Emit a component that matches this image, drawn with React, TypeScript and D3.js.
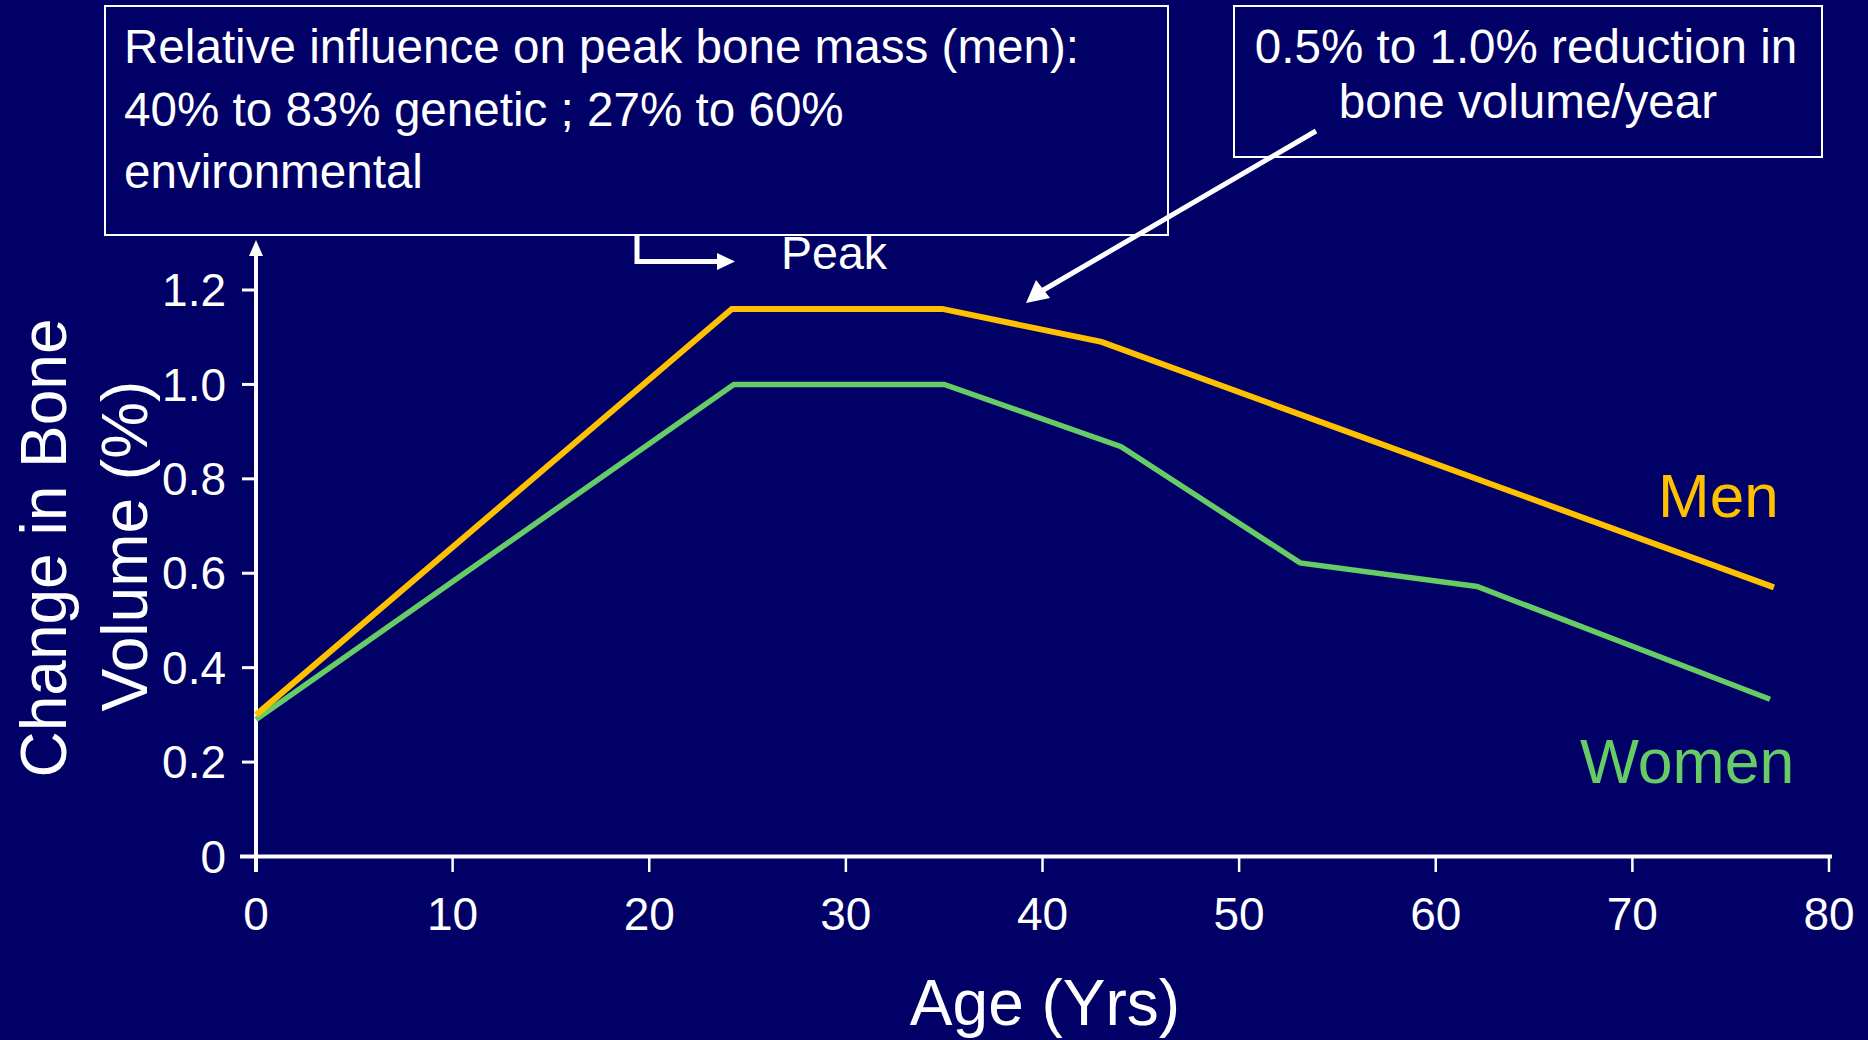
import React from 'react';
import * as d3 from 'd3';

// series values
const menAges = [0, 24.2, 34.9, 43, 77.2];
const menValues = [0.3, 1.16, 1.16, 1.09, 0.57];
const womenAges = [0, 24.3, 35, 44, 53.1, 62.1, 77];
const womenValues = [0.29, 1.0, 1.0, 0.868, 0.622, 0.572, 0.333];

const xTicks = [0, 10, 20, 30, 40, 50, 60, 70, 80];
const yTicks = [0, 0.2, 0.4, 0.6, 0.8, 1.0, 1.2];
const yTickLabels = ['0', '0.2', '0.4', '0.6', '0.8', '1.0', '1.2'];

const W = 1868;
const H = 1040;
const BG = '#000066';
const MEN = '#FFC000';
const WOMEN = '#66CC66';
const FONT = '"Liberation Sans", Arial, sans-serif';

export default function App() {
  // plot area: age 0..80 and volume 0..1.2
  const x = d3.scaleLinear().domain([0, 80]).range([256, 1829]);
  const y = d3.scaleLinear().domain([0, 1.2]).range([856.5, 290]);

  const line = d3
    .line<[number, number]>()
    .x((d) => x(d[0]))
    .y((d) => y(d[1]));

  const menPts = menAges.map((a, i) => [a, menValues[i]] as [number, number]);
  const womenPts = womenAges.map((a, i) => [a, womenValues[i]] as [number, number]);

  const x0 = x(0);
  const y0 = y(0);

  return (
    <div style={{ position: 'fixed', left: 0, top: 0, width: W, height: H, background: BG }}>
      <svg width={W} height={H} style={{ display: 'block' }} fontFamily={FONT}>
        <rect width={W} height={H} fill={BG} />

        {/* text box, left */}
        <rect x={105} y={6} width={1063} height={229} fill="none" stroke="white" strokeWidth={2} />
        <g fill="white" fontSize={47.6}>
          <text x={124} y={63}>Relative influence on peak bone mass (men):</text>
          <text x={124} y={126}>40% to 83% genetic ; 27% to 60%</text>
          <text x={124} y={188}>environmental</text>
        </g>

        {/* text box, right */}
        <rect x={1234} y={6} width={588} height={151} fill="none" stroke="white" strokeWidth={2} />
        <g fill="white" fontSize={47.6} textAnchor="middle">
          <text x={1526} y={63}>0.5% to 1.0% reduction in</text>
          <text x={1528} y={118}>bone volume/year</text>
        </g>

        {/* callout arrow */}
        <line x1={1316} y1={131} x2={1040} y2={292} stroke="white" strokeWidth={5} />
        <polygon points="1026,303 1036,280 1050,298" fill="white" />

        {/* peak marker */}
        <path d="M637,235 V261.5 H720" fill="none" stroke="white" strokeWidth={5} />
        <polygon points="735,261.5 717,253 717,270" fill="white" />
        <text x={781} y={269} fill="white" fontSize={46.5}>Peak</text>

        {/* y axis with arrow */}
        <line x1={x0} y1={872} x2={x0} y2={252} stroke="white" strokeWidth={4} />
        <polygon points={`${x0},240 ${x0 - 7},256 ${x0 + 7},256`} fill="white" />
        {yTicks.map((t, i) => (
          <g key={t}>
            <line x1={x0 - 14} x2={x0} y1={y(t)} y2={y(t)} stroke="white" strokeWidth={3} />
            <text
              x={226}
              y={y(t)}
              dy="0.35em"
              textAnchor="end"
              fill="white"
              fontSize={46}
            >
              {yTickLabels[i]}
            </text>
          </g>
        ))}

        {/* x axis */}
        <line x1={240} x2={1832} y1={y0} y2={y0} stroke="white" strokeWidth={4} />
        {xTicks.map((t) => (
          <g key={t}>
            <line x1={x(t)} x2={x(t)} y1={y0} y2={872} stroke="white" strokeWidth={2.5} />
            <text x={x(t)} y={930} textAnchor="middle" fill="white" fontSize={46}>
              {t}
            </text>
          </g>
        ))}

        {/* axis titles */}
        <text x={1045} y={1025} textAnchor="middle" fill="white" fontSize={64}>
          Age (Yrs)
        </text>
        <g fill="white" fontSize={64} textAnchor="middle">
          <text transform="translate(66,548) rotate(-90)">Change in Bone</text>
          <text transform="translate(147,546) rotate(-90)">Volume (%)</text>
        </g>

        {/* series */}
        <path d={line(womenPts) ?? ''} fill="none" stroke={WOMEN} strokeWidth={5.5} />
        <path d={line(menPts) ?? ''} fill="none" stroke={MEN} strokeWidth={6} />

        <text x={1658} y={517} fill={MEN} fontSize={62}>Men</text>
        <text x={1580} y={783} fill={WOMEN} fontSize={62.5}>Women</text>
      </svg>
    </div>
  );
}
